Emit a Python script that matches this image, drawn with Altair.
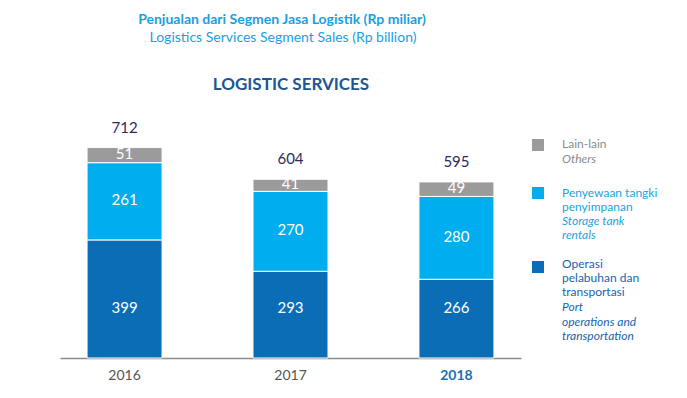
import altair as alt
import pandas as pd

years = ["2016", "2017", "2018"]
port = [399, 293, 266]
storage = [261, 270, 280]
others = [51, 41, 49]
totals = [712, 604, 595]
segment_names = ["Operasi pelabuhan dan transportasi", "Penyewaan tangki penyimpanan", "Lain-lain"]
segment_colors = ["#0b6db6", "#00aeef", "#9b9b9b"]

FONT = "Lato"

rows = []
for i, yr in enumerate(years):
    base = 0
    for k, (name, vals) in enumerate(zip(segment_names, [port, storage, others])):
        v = vals[i]
        rows.append(dict(year=yr, segment=name, value=v, start=base, end=base + v, mid=base + v / 2))
        base += v
df = pd.DataFrame(rows)
tot = pd.DataFrame(dict(year=years, total=totals,
                        top=[p + s + o for p, s, o in zip(port, storage, others)]))

xenc = alt.X("year:N", sort=years, title=None,
             scale=alt.Scale(paddingInner=0.548, paddingOuter=0.163),
             axis=alt.Axis(labelAngle=0, ticks=False, labelPadding=10, labelFontSize=14,
                           labelFont=FONT, domainColor="#8c8c8c", domainWidth=1.5,
                           labelColor=alt.condition("datum.value == '2018'", alt.value("#1a6fb5"), alt.value("#555555")),
                           labelFontWeight=alt.condition("datum.value == '2018'", alt.value("bold"), alt.value("normal"))))
yscale = alt.Scale(domain=[0, 838])

bars = alt.Chart(df).mark_bar(stroke="white", strokeWidth=1).encode(
    x=xenc,
    y=alt.Y("start:Q", scale=yscale, axis=None),
    y2="end:Q",
    color=alt.Color("segment:N", scale=alt.Scale(domain=segment_names, range=segment_colors), legend=None),
)

seg_labels = alt.Chart(df).transform_filter(
    alt.datum.segment != segment_names[0]
).mark_text(color="white", fontSize=15, font=FONT, baseline="middle", dy=-1).encode(
    x=alt.X("year:N", sort=years),
    y=alt.Y("mid:Q", scale=yscale),
    text="value:Q",
)

base_labels = alt.Chart(df).transform_filter(
    alt.datum.segment == segment_names[0]
).mark_text(color="white", fontSize=15, font=FONT, baseline="middle").encode(
    x=alt.X("year:N", sort=years),
    y=alt.value(198),
    text="value:Q",
)

tot_labels = alt.Chart(tot).mark_text(color="#2d2b5e", fontSize=15, font=FONT, baseline="alphabetic", dy=-15).encode(
    x=alt.X("year:N", sort=years),
    y=alt.Y("top:Q", scale=yscale),
    text="total:Q",
)

dummy = pd.DataFrame({"a": [0]})

def txt(s, x, y, color, size, weight="normal", style="normal", align="center", baseline="middle", lh=None):
    kw = dict(color=color, fontSize=size, font=FONT, fontWeight=weight, fontStyle=style,
              align=align, baseline=baseline)
    if lh is not None:
        kw["lineHeight"] = lh
    return alt.Chart(dummy).mark_text(**kw).encode(x=alt.value(x), y=alt.value(y), text=alt.value(s))

def sq(x, y, color):
    return alt.Chart(dummy).mark_rect(color=color).encode(
        x=alt.value(x), x2=alt.value(x + 12), y=alt.value(y), y2=alt.value(y + 12))

title1 = txt("Penjualan dari Segmen Jasa Logistik (Rp miliar)", 222, -90, "#1a9fe0", 14, weight="bold")
title2 = txt("Logistics Services Segment Sales (Rp billion)", 223, -72, "#1a9fe0", 14)
title3 = txt("LOGISTIC SERVICES", 231, -25, "#1b5796", 17, weight="bold")

leg = [
    sq(472, 29, segment_colors[2]),
    txt(["Lain-lain"], 502, 29, "#8a8a8a", 12, align="left", baseline="top", lh=15),
    txt(["Others"], 502, 44, "#8a8a8a", 12, style="italic", align="left", baseline="top", lh=15),
    sq(472, 77, segment_colors[1]),
    txt(["Penyewaan tangki", "penyimpanan"], 502, 78, "#1aa3e0", 12, align="left", baseline="top", lh=14),
    txt(["Storage tank", "rentals"], 502, 106, "#1aa3e0", 12, style="italic", align="left", baseline="top", lh=14),
    sq(472, 151, segment_colors[0]),
    txt(["Operasi", "pelabuhan dan", "transportasi"], 502, 149, "#1565b0", 12, align="left", baseline="top", lh=14.2),
    txt(["Port", "operations and", "transportation"], 502, 192, "#1565b0", 12, style="italic", align="left", baseline="top", lh=14.5),
]

chart = alt.layer(bars, seg_labels, base_labels, tot_labels, title1, title2, title3, *leg).properties(
    width=461, height=248,
    autosize=alt.AutoSizeParams(type="none"),
    padding={"left": 52, "top": 102, "right": 158, "bottom": 32},
    background="white",
).configure_view(stroke=None)

chart.save("out.html", embed_options={"renderer": "svg", "actions": False})
